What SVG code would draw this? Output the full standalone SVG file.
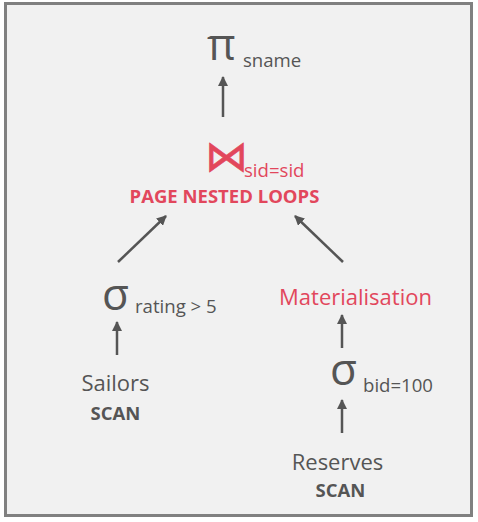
<svg xmlns="http://www.w3.org/2000/svg" width="478" height="522" viewBox="0 0 478 522">
<defs>
<marker id="ah" viewBox="0 0 10 10" refX="9" refY="5" markerWidth="4" markerHeight="4" orient="auto" markerUnits="strokeWidth">
<path d="M0,0 L10,5 L0,10 z" fill="#555"/>
</marker>
<style>
.g{fill:#555;font-family:"Open Sans","Liberation Sans",sans-serif}
.r{fill:#e2475c;font-family:"Open Sans","Liberation Sans",sans-serif}
.b{font-weight:bold}
.s{font-size:18.6px}
.m{font-size:22px}
.k{font-size:18.5px;font-weight:bold}
.e{stroke:#555;stroke-width:2.5;fill:none;marker-end:url(#ah)}
</style>
</defs>
<rect x="5.5" y="3.5" width="466" height="512" fill="#f1f1f1" stroke="#808080" stroke-width="3"/>
<g id="project">
<text class="g" x="207" y="60" font-size="44">π</text>
<text class="g s" x="243" y="67">sname</text>
</g>
<g id="join">
<text class="r" x="205" y="171" font-size="43" stroke="#e2475c" stroke-width="0.6" stroke-linejoin="round" style="font-family:'DejaVu Sans',sans-serif">⋈</text>
<text class="r s" x="244" y="177">sid=sid</text>
<text class="r k" x="224.5" y="203" text-anchor="middle">PAGE NESTED LOOPS</text>
</g>
<g id="select-rating">
<text class="g" x="102" y="310" font-size="44">σ</text>
<text class="g s" x="135" y="313">rating &gt; 5</text>
</g>
<g id="materialisation">
<text class="r m" x="355.5" y="305" text-anchor="middle">Materialisation</text>
</g>
<g id="select-bid">
<text class="g" x="330" y="385" font-size="44">σ</text>
<text class="g s" x="363" y="392">bid=100</text>
</g>
<g id="sailors">
<text class="g m" x="115.5" y="391" text-anchor="middle">Sailors</text>
<text class="g k" x="115.5" y="420" text-anchor="middle">SCAN</text>
</g>
<g id="reserves">
<text class="g m" x="337.5" y="470" text-anchor="middle">Reserves</text>
<text class="g k" x="340.5" y="497" text-anchor="middle">SCAN</text>
</g>
<g id="connectors">
<line class="e" x1="223" y1="117" x2="223" y2="77"/>
<line class="e" x1="118" y1="262" x2="166" y2="216"/>
<line class="e" x1="343" y1="262" x2="295" y2="216"/>
<line class="e" x1="117" y1="355" x2="117" y2="322"/>
<line class="e" x1="342" y1="348" x2="342" y2="315"/>
<line class="e" x1="342" y1="433" x2="342" y2="400"/>
</g>
</svg>
